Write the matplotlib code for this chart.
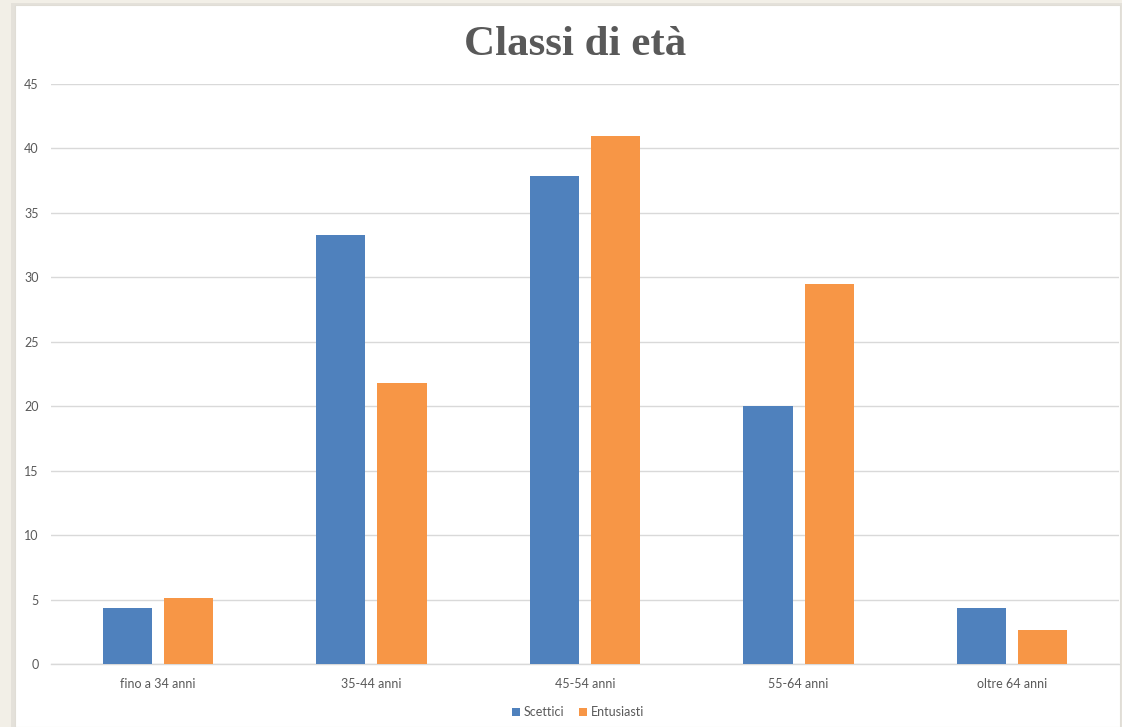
import matplotlib.pyplot as plt
import matplotlib.patches as mpatches
import numpy as np

# dati
categorie = ["fino a 34 anni", "35-44 anni", "45-54 anni", "55-64 anni", "oltre 64 anni"]
scettici = [4.35, 33.3, 37.9, 20.0, 4.35]
entusiasti = [5.1, 21.8, 41.0, 29.5, 2.6]
y_ticks = [0, 5, 10, 15, 20, 25, 30, 35, 40, 45]

blu = "#4F81BD"
arancio = "#F79646"
grigio = "#595959"

fig = plt.figure(figsize=(11.22, 7.27), dpi=100)
fig.patch.set_facecolor("#F2EFE7")

# pannello bianco con leggera ombra
W, H = 1122, 727
ombra = mpatches.Rectangle((11 / W, 0), (1122 - 11) / W, 1 - 3 / H,
                           transform=fig.transFigure, facecolor="#E4E1DA",
                           edgecolor="none", zorder=-2)
pannello = mpatches.Rectangle((15 / W, 0), (1120 - 15) / W, 1 - 5 / H,
                              transform=fig.transFigure, facecolor="white",
                              edgecolor="#E0DDD6", linewidth=0.8, zorder=-1)
fig.add_artist(ombra)
fig.add_artist(pannello)

ax = fig.add_axes([51 / W, 1 - 664 / H, (1119 - 51) / W, (664 - 84) / H])
ax.set_facecolor("none")

x = np.arange(len(categorie))
larg = 0.23
off = 0.143
ax.bar(x - off, scettici, width=larg, color=blu, label="Scettici", zorder=3)
ax.bar(x + off, entusiasti, width=larg, color=arancio, label="Entusiasti", zorder=3)

ax.set_xlim(-0.5, len(categorie) - 0.5)
ax.set_ylim(0, 45)
ax.set_yticks(y_ticks)
ax.set_xticks(x)
ax.set_xticklabels(categorie)

ax.tick_params(axis="both", length=0, labelsize=9, labelcolor=grigio)
ax.tick_params(axis="y", pad=9)
ax.tick_params(axis="x", pad=10)
for lab in ax.get_xticklabels() + ax.get_yticklabels():
    lab.set_fontfamily("Lato")

ax.grid(axis="y", color="#D9D9D9", linewidth=1, zorder=0)
for s in ["top", "right", "left"]:
    ax.spines[s].set_visible(False)
ax.spines["bottom"].set_color("#D9D9D9")
ax.spines["bottom"].set_linewidth(1)

fig.text(575 / W, 1 - 45 / H, "Classi di età", ha="center", va="center",
         fontsize=31, fontweight="bold", color=grigio, family="Liberation Serif")

ax.legend(loc="center", bbox_to_anchor=(578 / W, 1 - 712 / H),
          bbox_transform=fig.transFigure, ncol=2, frameon=False,
          handlelength=0.6, handleheight=0.6, handletextpad=0.3,
          columnspacing=1.2, prop={"family": "Lato", "size": 9},
          labelcolor=grigio)

fig.savefig("out.png", dpi=100, facecolor=fig.get_facecolor())
